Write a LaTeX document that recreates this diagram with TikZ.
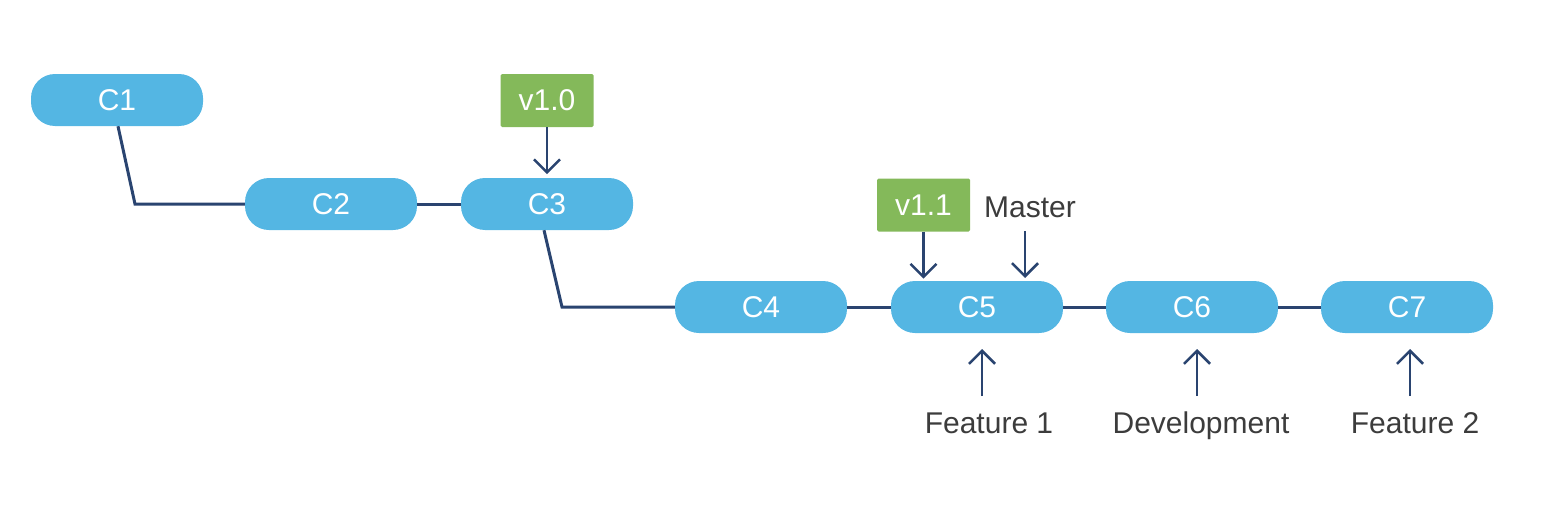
\documentclass[tikz,border=0pt]{standalone}
\usepackage{fontspec}
\setmainfont{Liberation Sans}
\usetikzlibrary{arrows.meta}
\definecolor{commitblue}{HTML}{54B6E3}
\definecolor{taggreen}{HTML}{84B95A}
\definecolor{linenavy}{HTML}{2A4470}
\definecolor{labelgray}{HTML}{3C3C3C}
\tikzset{
  commit/.style={draw=none, fill=commitblue, rounded corners=24pt, minimum width=172pt, minimum height=52pt, inner sep=0pt, text=white, font=\fontsize{30}{33}\selectfont},
  tag/.style={draw=none, fill=taggreen, rounded corners=1.5pt, minimum width=93pt, minimum height=53pt, inner sep=0pt, text=white, font=\fontsize{30}{33}\selectfont},
  branchlabel/.style={inner sep=0pt, anchor=base, text=labelgray, font=\fontsize{30}{33}\selectfont},
  link/.style={draw=linenavy, line width=3pt},
  pointer/.style={draw=linenavy, line width=2.6pt, -{Straight Barb[length=13pt,width=26pt]}}
}
\begin{document}
\begin{tikzpicture}[x=1pt,y=-1pt]
\useasboundingbox (0,0) rectangle (1556,522);
% commits
\node[commit] (c1) at (117,100) {C1};
\node[commit] (c2) at (331,204) {C2};
\node[commit] (c3) at (547,204) {C3};
\node[commit] (c4) at (761,307) {C4};
\node[commit] (c5) at (977,307) {C5};
\node[commit] (c6) at (1192,307) {C6};
\node[commit] (c7) at (1407,307) {C7};
% tags
\node[tag] (v10) at (547,100.5) {v1.0};
\node[tag] (v11) at (923.5,205) {v1.1};
% labels
\node[branchlabel] (master) at (1030,217) {Master};
\node[branchlabel] (f1) at (989,433) {Feature 1};
\node[branchlabel] (dev) at (1201,433) {Development};
\node[branchlabel] (f2) at (1415,433) {Feature 2};
% coordinates
\coordinate (b1) at (135,204);
\coordinate (b3) at (562,307);
% links
\draw[link] (c1.south -| 118,0) -- (b1) -- (c2.west);
\draw[link] (c2.east) -- (c3.west);
\draw[link] (c3.south -| 544,0) -- (b3) -- (c4.west);
\draw[link] (c4.east) -- (c5.west);
\draw[link] (c5.east) -- (c6.west);
\draw[link] (c6.east) -- (c7.west);
% pointers
\coordinate (m1) at (1025,231);
\coordinate (p1) at (982,396);
\coordinate (p2) at (1197,396);
\coordinate (p3) at (1410,396);
\draw[pointer] (v10.south) -- ++(0,47);
\draw[pointer] (v11.south) -- ++(0,47);
\draw[pointer] (m1) -- ++(0,47);
\draw[pointer] (p1) -- ++(0,-47);
\draw[pointer] (p2) -- ++(0,-47);
\draw[pointer] (p3) -- ++(0,-47);
\end{tikzpicture}
\end{document}
